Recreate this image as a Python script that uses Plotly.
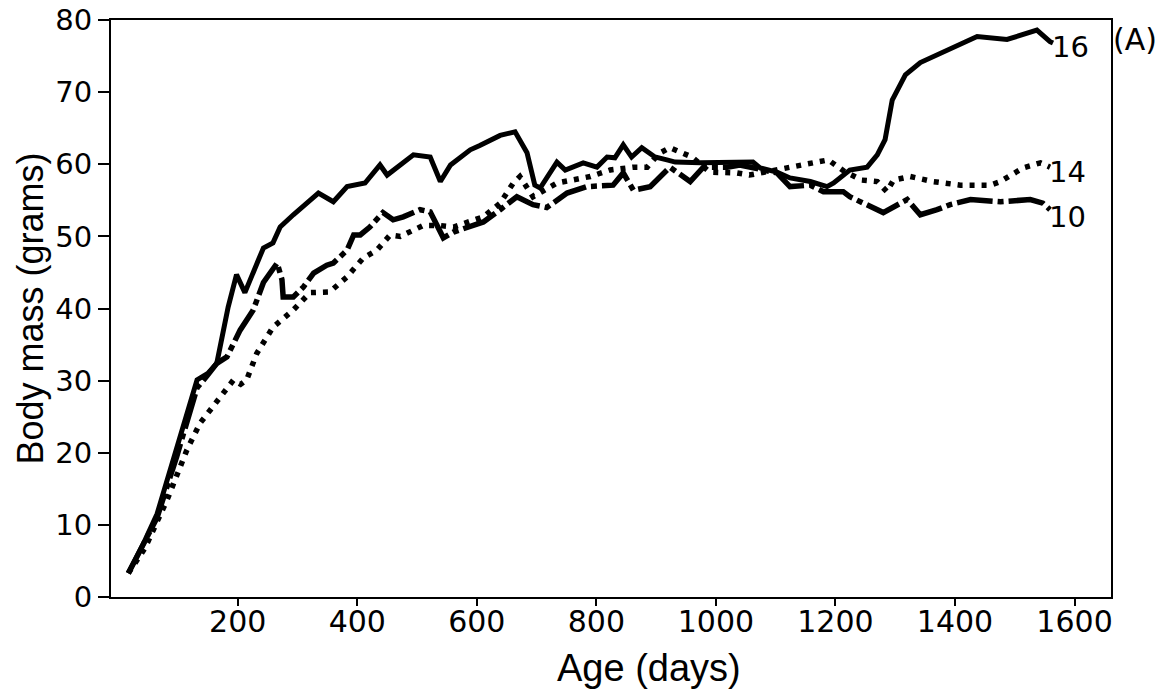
import plotly.graph_objects as go

# ---- data ----
days16 = [17, 40, 65, 98, 132, 150, 165, 184, 198, 212, 243, 259, 271, 293, 335, 360, 383, 413,
          438, 450, 494, 522, 539, 556, 589, 605, 639, 664, 684, 697, 706, 734, 748, 778, 801, 818,
          831, 845, 859, 876, 898, 918, 932, 974, 1007, 1029, 1062, 1074, 1102, 1124, 1158, 1186,
          1197, 1224, 1253, 1270, 1283, 1295, 1317, 1342, 1392, 1437, 1487, 1537, 1559, 1564]
mass16 = [3.3, 7.0, 11.5, 20.4, 30.1, 31.0, 32.4, 40.2, 44.7, 42.2, 48.4, 49.1, 51.3, 53.0, 56.0,
          54.8, 56.9, 57.4, 59.9, 58.5, 61.3, 61.0, 57.6, 59.9, 62.0, 62.6, 64.0, 64.5, 61.6, 57.1,
          56.7, 60.3, 59.2, 60.2, 59.6, 61.0, 60.9, 62.7, 61.0, 62.3, 61.0, 60.6, 60.3, 60.2, 60.2,
          60.3, 60.3, 59.5, 58.9, 58.1, 57.6, 56.9, 57.4, 59.2, 59.6, 61.3, 63.4, 68.9, 72.4, 74.1,
          75.9, 77.7, 77.3, 78.6, 77.0, 76.8]

days14 = [17, 45, 82, 104, 115, 137, 159, 193, 205, 215, 232, 259, 293, 321, 354, 383, 410, 433,
          455, 472, 510, 539, 561, 611, 639, 661, 672, 694, 734, 761, 790, 823, 862, 885, 905, 923,
          940, 960, 990, 1035, 1056, 1090, 1118, 1145, 1166, 1188, 1215, 1244, 1270, 1286, 1297,
          1325, 1363, 1409, 1459, 1476, 1514, 1543, 1559]
mass14 = [3.3, 6.8, 13.5, 18.0, 20.4, 24.1, 26.4, 30.1, 29.5, 30.1, 33.8, 37.4, 39.8, 42.2, 42.3,
          44.4, 47.0, 48.1, 50.2, 50.0, 51.5, 51.5, 51.3, 52.7, 54.6, 57.4, 58.3, 55.5, 57.4, 57.8,
          58.3, 59.2, 59.6, 59.6, 61.5, 62.3, 61.7, 61.0, 58.9, 58.8, 58.5, 59.0, 59.5, 59.9, 60.2,
          60.6, 59.0, 57.8, 57.6, 56.2, 57.8, 58.3, 57.6, 57.1, 57.1, 57.6, 59.5, 60.2, 59.6]

days10 = [17, 40, 65, 98, 132, 150, 165, 182, 204, 226, 243, 266, 274, 276, 293, 310, 327, 349,
          360, 383, 394, 405, 421, 443, 460, 477, 494, 505, 522, 544, 561, 584, 611, 639, 667, 694,
          717, 751, 784, 828, 845, 862, 890, 923, 957, 979, 1019, 1040, 1102, 1124, 1158, 1180,
          1213, 1224, 1246, 1280, 1320, 1342, 1370, 1392, 1426, 1476, 1526, 1547, 1559]
mass10 = [3.3, 7.0, 11.0, 19.5, 29.0, 30.8, 32.4, 33.3, 37.0, 39.8, 43.6, 46.3, 44.0, 41.6, 41.6,
          43.0, 44.9, 46.0, 46.3, 48.1, 50.2, 50.2, 51.3, 53.3, 52.3, 52.7, 53.4, 53.7, 53.4, 49.8,
          50.6, 51.3, 52.0, 53.7, 55.5, 54.4, 54.0, 56.0, 56.9, 57.1, 58.8, 56.4, 56.9, 59.6, 57.6,
          59.6, 59.6, 59.9, 58.8, 56.9, 57.1, 56.2, 56.2, 55.5, 54.6, 53.3, 55.1, 53.0, 53.7, 54.4,
          55.1, 54.8, 55.1, 54.6, 53.7]

series_labels = ["16", "14", "10"]
x_ticks = [200, 400, 600, 800, 1000, 1200, 1400, 1600]
y_ticks = [0, 10, 20, 30, 40, 50, 60, 70, 80]
x_title = "Age (days)"
y_title = "Body mass (grams)"
panel_label = "(A)"

NUM_FONT = "DejaVu Sans"
TXT_FONT = "Liberation Sans"

fig = go.Figure()
fig.add_trace(go.Scatter(x=days16, y=mass16, mode="lines",
                         line=dict(color="black", width=5), showlegend=False))
fig.add_trace(go.Scatter(x=days14, y=mass14, mode="lines",
                         line=dict(color="black", width=5.5, dash="5px,7px"), showlegend=False))
fig.add_trace(go.Scatter(x=days10, y=mass10, mode="lines",
                         line=dict(color="black", width=5.5, dash="36px,5px,6px,5px"),
                         showlegend=False))

ann = []
for lab, xs, ys, dy in zip(series_labels, [days16, days14, days10], [mass16, mass14, mass10],
                           [-4, -5, -7]):
    ann.append(dict(x=xs[-1], y=ys[-1], text=lab, showarrow=False, xanchor="left",
                    yanchor="middle", xshift=-3, yshift=dy,
                    font=dict(family=NUM_FONT, size=29, color="black")))
ann.append(dict(x=1.0, y=0.9636, xref="paper", yref="paper", text=panel_label, showarrow=False,
                xanchor="left", yanchor="middle", yshift=2,
                font=dict(family=NUM_FONT, size=30, color="black")))
ann.append(dict(x=0.538, y=-0.123, xref="paper", yref="paper", text=x_title, showarrow=False,
                xanchor="center", yanchor="middle",
                font=dict(family=TXT_FONT, size=38, color="black")))
ann.append(dict(x=-0.081, y=0.5, xref="paper", yref="paper", text=y_title, showarrow=False,
                textangle=-90, xanchor="center", yanchor="middle",
                font=dict(family=TXT_FONT, size=36, color="black")))

fig.update_layout(
    template="none",
    width=1176, height=692,
    margin=dict(l=111, r=65, t=20, b=95, autoexpand=False),
    paper_bgcolor="white", plot_bgcolor="white",
    annotations=ann,
    xaxis=dict(range=[-12, 1661], tickvals=x_ticks, showgrid=False, zeroline=False,
               automargin=False,
               showline=True, linecolor="black", linewidth=2, mirror=True,
               ticks="outside", ticklen=7, tickwidth=2, tickcolor="black",
               tickfont=dict(family=NUM_FONT, size=30, color="black"), ticklabelstandoff=-10),
    yaxis=dict(range=[0, 80], tickvals=y_ticks, showgrid=False, zeroline=False,
               automargin=False,
               showline=True, linecolor="black", linewidth=2, mirror=True,
               ticks="outside", ticklen=11, tickwidth=2, tickcolor="black",
               tickfont=dict(family=NUM_FONT, size=29, color="black"), ticklabelstandoff=0),
)

fig.write_html("out.html", config={"displayModeBar": False})
